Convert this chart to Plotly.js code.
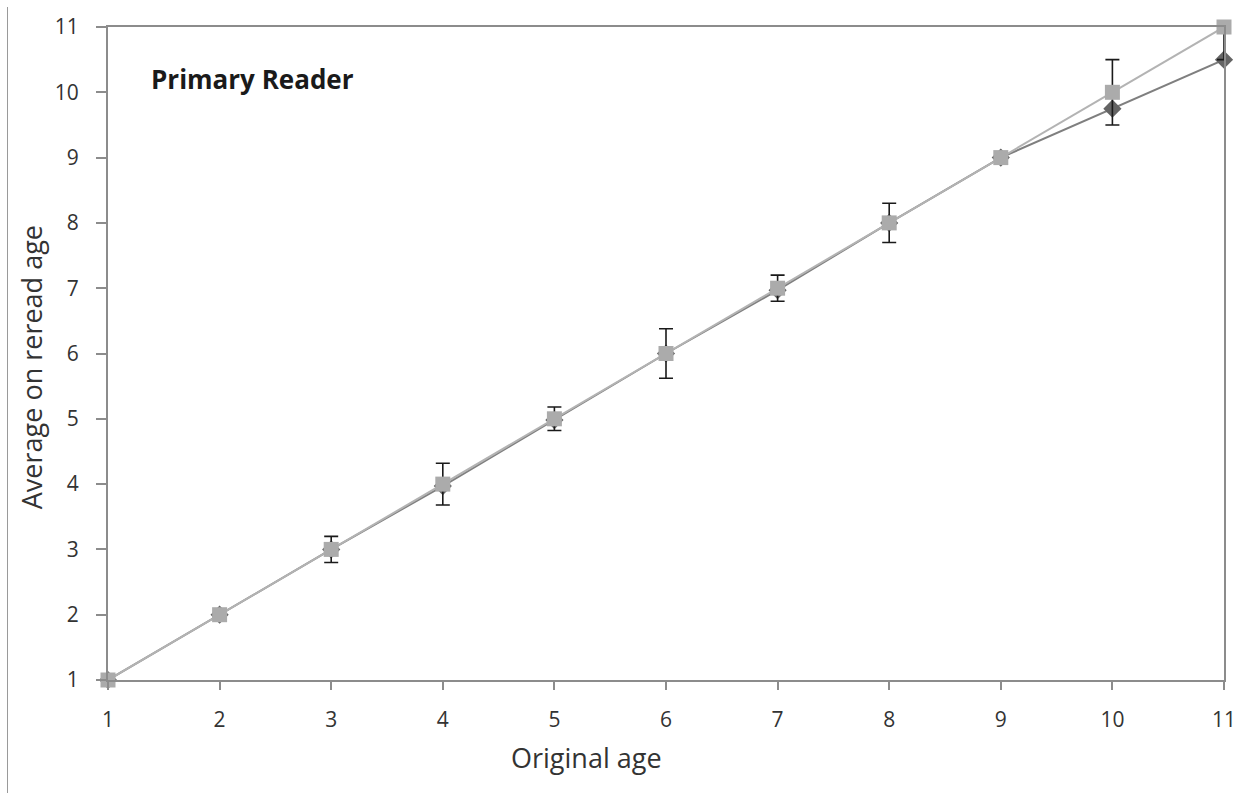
<!DOCTYPE html>
<html>
<head>
<meta charset="utf-8">
<script src="https://cdn.plot.ly/plotly-3.0.1.min.js"></script>
<style>
  html, body { margin: 0; padding: 0; background: #fff; }
  #wrap { position: relative; width: 1247px; height: 793px; }
  #chart { width: 1247px; height: 793px; }
  #edge { position: absolute; left: 7px; top: 7px; width: 1px; height: 786px; background: #9a9a9a; }
</style>
</head>
<body>
<div id="wrap">
  <div id="chart"></div>
  <div id="edge"></div>
</div>
<script>
// Data
const originalAge = [1, 2, 3, 4, 5, 6, 7, 8, 9, 10, 11];
const rereadAverage = [1, 2, 3, 3.97, 4.98, 6, 6.97, 8, 9, 9.75, 10.5];
const expectedAge = [1, 2, 3, 4, 5, 6, 7, 8, 9, 10, 11];
const errorPlus = [0, 0, 0.2, 0.32, 0.18, 0.38, 0.2, 0.3, 0, 0.5, 0];
const errorMinus = [0, 0, 0.2, 0.32, 0.18, 0.38, 0.2, 0.3, 0, 0.5, 0.5];
const tickValues = [1, 2, 3, 4, 5, 6, 7, 8, 9, 10, 11];
const chartLabel = 'Primary Reader';
const xTitle = 'Original age';
const yTitle = 'Average on reread age';

const fontFam = '"Open Sans", "DejaVu Sans", sans-serif';

const traces = [
  {
    x: originalAge,
    y: rereadAverage,
    type: 'scatter',
    mode: 'lines+markers',
    line: { color: '#7f7f7f', width: 2 },
    marker: { symbol: 'diamond', size: 14, color: '#646464' },
    showlegend: false,
    cliponaxis: false
  },
  {
    x: originalAge,
    y: expectedAge,
    type: 'scatter',
    mode: 'lines+markers',
    line: { color: '#b3b3b3', width: 2 },
    marker: { symbol: 'square', size: 15, color: '#ababab' },
    error_y: {
      type: 'data',
      symmetric: false,
      array: errorPlus,
      arrayminus: errorMinus,
      visible: true,
      color: '#1a1a1a',
      thickness: 1.6,
      width: 7
    },
    showlegend: false,
    cliponaxis: false
  }
];

const axisCommon = {
  range: [1, 11],
  tickmode: 'array',
  tickvals: tickValues,
  ticktext: tickValues.map(String),
  showgrid: false,
  zeroline: false,
  showline: true,
  linecolor: '#8c8c8c',
  linewidth: 2,
  mirror: true,
  ticks: 'outside',
  tickcolor: '#8c8c8c',
  tickwidth: 2,
  tickfont: { family: fontFam, size: 21, color: '#333333' }
};

const layout = {
  width: 1247,
  height: 793,
  margin: { l: 108, r: 23, t: 27, b: 113 },
  paper_bgcolor: '#ffffff',
  plot_bgcolor: '#ffffff',
  font: { family: fontFam, color: '#333333' },
  xaxis: Object.assign({}, axisCommon, { ticklen: 8, ticklabelstandoff: 12 }),
  yaxis: Object.assign({}, axisCommon, { ticklen: 10, ticklabelstandoff: 13 }),
  annotations: [
    {
      text: '<b>' + chartLabel + '</b>',
      xref: 'paper', yref: 'paper',
      x: 0.037, y: 0.92,
      xanchor: 'left', yanchor: 'middle',
      showarrow: false,
      font: { family: fontFam, size: 26, color: '#1a1a1a' }
    },
    {
      text: xTitle,
      xref: 'paper', yref: 'paper',
      x: 0.429, y: -0.118,
      xanchor: 'center', yanchor: 'middle',
      showarrow: false,
      font: { family: fontFam, size: 27, color: '#333333' }
    },
    {
      text: yTitle,
      xref: 'paper', yref: 'paper',
      x: -0.069, y: 0.479,
      xanchor: 'center', yanchor: 'middle',
      textangle: -90,
      showarrow: false,
      font: { family: fontFam, size: 27, color: '#333333' }
    }
  ]
};

Plotly.newPlot('chart', traces, layout, { displayModeBar: false, staticPlot: true });
</script>
</body>
</html>
